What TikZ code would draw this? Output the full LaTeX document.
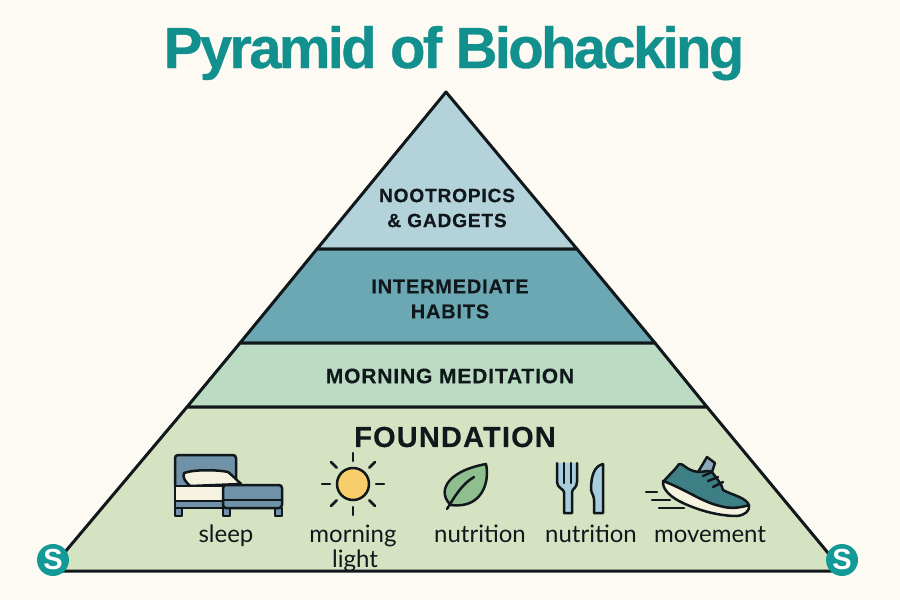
\documentclass[tikz,border=0pt]{standalone}
\usepackage{fontspec}
\setmainfont{Liberation Sans}
\newfontfamily\titlefont[LetterSpace=-4.6,FakeBold=0.6]{Liberation Sans}
\newfontfamily\headfont[LetterSpace=4,FakeBold=0.3]{Liberation Sans}
\newfontfamily\smallfont{Lato}
\definecolor{paper}{HTML}{FDFAF4}
\definecolor{teal}{HTML}{12908E}
\definecolor{ink}{HTML}{10181C}
\definecolor{layerA}{HTML}{B3D2D9}
\definecolor{layerB}{HTML}{6CA8B3}
\definecolor{layerC}{HTML}{BBDCC3}
\definecolor{layerD}{HTML}{D5E3C3}
\definecolor{bedblue}{HTML}{6F92A8}
\definecolor{cream}{HTML}{F5F3E0}
\definecolor{sunny}{HTML}{F8CE6B}
\definecolor{leafy}{HTML}{8FBF8F}
\definecolor{steel}{HTML}{A8CDDC}
\definecolor{shoe}{HTML}{3E7F86}
\definecolor{badgeteal}{HTML}{149A96}
\tikzset{
  layer/.style={draw=ink, line width=3pt, line join=round},
  head/.style={text=ink, font=\headfont\bfseries\fontsize{20}{24}\selectfont, align=center, inner sep=0pt},
  word/.style={text=ink, font=\smallfont\fontsize{24}{26}\selectfont, inner sep=0pt, anchor=base},
  icon/.style={draw=ink, line width=2.5pt, line join=round, line cap=round},
  badge/.style={circle, fill=badgeteal, text=white, minimum size=32pt, inner sep=0pt, font=\bfseries\fontsize{29}{29}\selectfont}
}
\begin{document}
\begin{tikzpicture}[x=1pt,y=-1pt]
    \useasboundingbox (0,0) rectangle (900,600);
    \fill[paper] (0,0) rectangle (900,600);
    \node[text=teal, font=\titlefont\bfseries\fontsize{58}{62}\selectfont, inner sep=0pt, anchor=base] (title) at (454,68) {Pyramid of Biohacking};

    \coordinate (apex) at (446,92);
    \coordinate (la) at (317,249);
    \coordinate (ra) at (577,249);
    \coordinate (lb) at (240,343);
    \coordinate (rb) at (655,343);
    \coordinate (lc) at (187,407);
    \coordinate (rc) at (707,407);
    \coordinate (ld) at (49,571);
    \coordinate (rd) at (843,571);

    \draw[layer, fill=layerA] (apex) -- (ra) -- (la) -- cycle;
    \draw[layer, fill=layerB] (la) -- (ra) -- (rb) -- (lb) -- cycle;
    \draw[layer, fill=layerC] (lb) -- (rb) -- (rc) -- (lc) -- cycle;
    \draw[layer, fill=layerD] (lc) -- (rc) -- (rd) -- (ld) -- cycle;

    \node[head, font=\headfont\bfseries\fontsize{19.2}{24}\selectfont] (tools) at (447,208) {NOOTROPICS\\[1pt]\& GADGETS};
    \node[head] (habits) at (450,299) {INTERMEDIATE\\[1pt]HABITS};
    \node[head, font=\headfont\bfseries\fontsize{21}{24}\selectfont] (meditation) at (450,376) {MORNING MEDITATION};
    \node[head, font=\headfont\bfseries\fontsize{29}{30}\selectfont] (foundation) at (455,437) {FOUNDATION};

    % bed
    \draw[icon, fill=bedblue, rounded corners=3pt] (175,486) -- (175,455) -- (236,455) -- (236,486);
    \draw[icon, fill=cream] (184,473) .. controls (195,469) and (220,470) .. (228,472) .. controls (233,476) and (238,481) .. (241,484) -- (190,486) .. controls (186,482) and (182,478) .. (184,473) -- cycle;
    \draw[icon, fill=bedblue] (175,508) rectangle (182,516);
    \draw[icon, fill=bedblue] (223,508) rectangle (230,516);
    \draw[icon, fill=bedblue] (275,508) rectangle (282,516);
    \draw[icon, fill=cream] (175,486) rectangle (223,501);
    \draw[icon, fill=bedblue] (175,501) rectangle (223,508);
    \draw[icon, fill=bedblue, rounded corners=3pt] (223,508) -- (223,485) -- (282,485) -- (282,508) -- cycle;
    \draw[line width=1.5pt, ink] (224,500) -- (281,500);

    % sun
    \draw[icon, fill=sunny] (353,484) circle(16);
    \foreach \a in {0,45,...,315} {
        \draw[icon] (353,484) ++(\a:23) -- ++(\a:8);
    }

    % leaf
    \draw[icon, fill=leafy] (451,505) .. controls (438,494) and (443,472) .. (486,464) .. controls (490,482) and (482,509) .. (451,505) -- cycle;
    \draw[icon] (447,509) .. controls (455,496) and (462,484) .. (474,477);

    % fork and knife
    \draw[icon, fill=steel] (557,463) -- (557,482) .. controls (557,488) and (564,489) .. (564,492) -- (564,513) -- (572,513) -- (572,492) .. controls (572,489) and (577,488) .. (577,482) -- (577,463);
    \draw[icon] (564,463) -- (564,483);
    \draw[icon] (571,463) -- (571,483);
    \draw[icon, fill=steel] (603,464) .. controls (595,466) and (591,474) .. (591,490) .. controls (592,494) and (594,496) .. (594,500) -- (594,513) -- (603,513) -- cycle;

    % shoe
    \draw[icon] (646,492) -- (657,492);
    \draw[icon] (652,500) -- (670,500);
    \draw[icon] (659,508) -- (684,508);
    \draw[icon, fill=bedblue!80!white] (698,472) -- (707,457) -- (715,463) -- (712,472) -- cycle;
    \draw[icon, fill=shoe] (664,481) .. controls (668,476) and (675,470) .. (679,464) .. controls (684,463) and (685,470) .. (698,472) .. controls (705,472) and (708,470) .. (712,472) .. controls (716,478) and (722,484) .. (723,490) .. controls (732,495) and (748,498) .. (749,506) -- (730,510) -- (700,500) -- cycle;
    \draw[icon, fill=cream] (663,481) .. controls (662,490) and (672,498) .. (683,503) .. controls (700,511) and (720,516) .. (737,516) .. controls (745,515) and (750,511) .. (749,505) .. controls (740,508) and (730,509) .. (720,506) .. controls (702,502) and (687,490) .. (663,481) -- cycle;
    \draw[icon] (703,476) -- (712,472);
    \draw[icon] (708,481) -- (718,477);
    \draw[icon] (713,487) -- (723,482);

    \node[word] (sleep) at (226,542) {sleep};
    \node[word] (morning) at (353,542) {morning};
    \node[word] (light) at (355,567) {light};
    \node[word] (leaftext) at (480,542) {nutrition};
    \node[word] (forktext) at (591,542) {nutrition};
    \node[word] (movement) at (710,542) {movement};

    \node[badge] (sl) at (53,560) {S};
    \node[badge] (sr) at (842,560) {S};
\end{tikzpicture}
\end{document}
